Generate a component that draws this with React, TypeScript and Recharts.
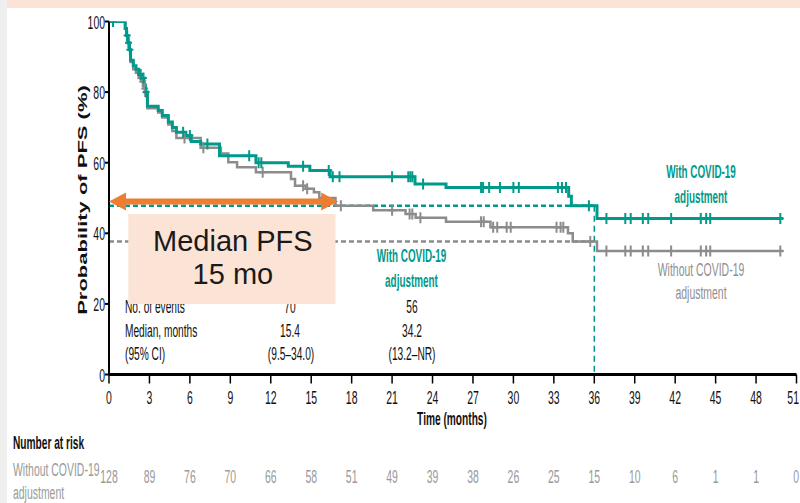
import React from 'react';
import { ComposedChart, Line, Scatter, XAxis, YAxis, ReferenceLine, ReferenceArea } from 'recharts';

// ---------- data ----------
const timeTicks = [0, 3, 6, 9, 12, 15, 18, 21, 24, 27, 30, 33, 36, 39, 42, 45, 48, 51];
const probTicks = [0, 20, 40, 60, 80, 100];
const riskWithout = [128, 89, 76, 70, 66, 58, 51, 49, 39, 38, 26, 25, 15, 10, 6, 1, 1, 0];

const withT = [0, 1.2, 1.3, 1.4, 1.5, 1.6, 1.8, 2.0, 2.2, 2.4, 2.6, 2.7, 2.85, 3.65, 3.95, 4.4, 4.7, 5.0, 5.7, 6.1, 6.8, 8.2, 10.9, 13.3, 14.9, 16.4, 22.7, 25.0, 34.1, 34.3, 36.2, 50.0];
const withP = [100, 98, 96, 94, 92, 89, 87.5, 86.5, 85, 84, 82, 80, 76, 74.8, 73.4, 71.5, 70, 68.6, 67.7, 66, 65.3, 62, 60, 59, 57.8, 56, 54, 53, 50.5, 47.8, 44.2, 44.2];

const withoutT = [0, 1.2, 1.3, 1.4, 1.5, 1.6, 1.8, 2.0, 2.2, 2.4, 2.6, 2.7, 2.85, 3.65, 3.95, 4.4, 4.7, 5.0, 6.8, 8.3, 8.85, 9.5, 10.9, 13.5, 13.8, 14.6, 15.2, 15.6, 16.8, 19.6, 22.0, 22.75, 25.0, 28.3, 34.05, 34.4, 36.2, 50.0];
const withoutP = [100, 98, 96, 94, 92, 88.5, 86.5, 85.5, 84, 83, 81, 79, 75.4, 74.2, 72.8, 70.8, 69, 67, 64.2, 62.6, 60.1, 58.7, 57.3, 55.4, 53.5, 52.6, 51.6, 50, 47.8, 46.5, 45.5, 44.4, 43.3, 41.7, 40, 37.7, 35, 35];

const withCensorT = [0.3, 1.35, 1.45, 1.55, 2.35, 2.55, 2.75, 5.5, 6.0, 7.3, 10.4, 11.1, 11.3, 14.4, 16.3, 16.6, 17.1, 21.0, 22.2, 22.35, 22.5, 23.3, 27.6, 27.75, 28.2, 29.0, 30.0, 30.4, 33.3, 33.6, 33.9, 35.6, 36.9, 38.3, 38.7, 39.6, 40.0, 41.7, 43.9, 44.3, 44.6, 49.8];
const withoutCensorT = [2.5, 2.65, 5.6, 7.0, 11.4, 14.4, 14.7, 17.2, 21.0, 22.3, 22.5, 23.1, 27.6, 27.8, 28.5, 28.8, 29.5, 29.8, 33.2, 33.5, 33.7, 35.7, 36.9, 38.3, 38.7, 39.6, 40.0, 41.7, 43.9, 44.3, 44.6, 49.8];

const medianWithLevel = 47.8;
const medianWithoutLevel = 37.7;
const arrowLevel = 49;
const arrowEnd = 17.0;
const medianTime = 36;
const boxX = [1.43, 16.8];
const boxY = [20.0, 45.5];

// ---------- helpers ----------
const TEAL = '#00998A';
const GRAY = '#8C8C8C';
const ORANGE = '#ED7D31';
const PINK = '#FBE4D6';
const FONT = "'Liberation Sans', Arial, sans-serif";
const SX = 0.55;

const toSeries = (ts: number[], ps: number[]) => ts.map((t, i) => ({ t, p: ps[i] }));
const stepAt = (ts: number[], ps: number[], t: number) => {
  let v = ps[0];
  for (let i = 0; i < ts.length; i++) if (ts[i] <= t) v = ps[i];
  return v;
};
const withData = toSeries(withT, withP);
const withoutData = toSeries(withoutT, withoutP);
const withCensor = withCensorT.map((t) => ({ t, p: stepAt(withT, withP, t) }));
const withoutCensor = withoutCensorT.map((t) => ({ t, p: stepAt(withoutT, withoutP, t) }));

function SText({ x, y, children, size = 18, anchor = 'middle', weight = 'normal', fill = '#111', sx = SX }: any) {
  return (
    <text
      transform={`translate(${x},${y}) scale(${sx},1)`}
      x={0}
      y={0}
      fontSize={size}
      fontFamily={FONT}
      fontWeight={weight}
      fill={fill}
      textAnchor={anchor}
    >
      {children}
    </text>
  );
}

const XTick = (props: any) => {
  const { x, y, payload } = props;
  const idx = timeTicks.indexOf(payload.value);
  const last = idx === timeTicks.length - 1;
  return (
    <g>
      <SText x={last ? 799 : x} y={y + 18} size={19} anchor={last ? 'end' : 'middle'}>{payload.value}</SText>
      <SText x={last ? 799 : x} y={y + 97.5} fill="#9A9A9A" size={19} anchor={last ? 'end' : 'middle'}>{riskWithout[idx]}</SText>
    </g>
  );
};

const YTick = (props: any) => {
  const { x, y, payload } = props;
  return <SText x={x} y={y + 7} size={19} anchor="end">{payload.value}</SText>;
};

const makeCensor = (color: string) => (props: any) => {
  const { cx, cy } = props;
  if (cx == null || cy == null) return <g />;
  return (
    <g>
      <line x1={cx} x2={cx} y1={cy - 5.5} y2={cy + 5.5} stroke={color} strokeWidth={2} />
      <line x1={cx - 3.5} x2={cx + 3.5} y1={cy} y2={cy} stroke={color} strokeWidth={2} />
    </g>
  );
};

const ArrowShape = (props: any) => {
  const { x1, y1, x2 } = props;
  if (x1 == null) return <g />;
  const L = 17;
  const H = 9;
  return (
    <g>
      <line x1={x1 + L - 1} x2={x2 - L + 1} y1={y1} y2={y1} stroke={ORANGE} strokeWidth={6} />
      <polygon points={`${x1},${y1} ${x1 + L},${y1 - H} ${x1 + L},${y1 + H}`} fill={ORANGE} />
      <polygon points={`${x2},${y1} ${x2 - L},${y1 - H} ${x2 - L},${y1 + H}`} fill={ORANGE} />
    </g>
  );
};

const BoxLabel = (props: any) => {
  const vb = props.viewBox || {};
  const cx = vb.x + vb.width / 2 + 1;
  const cy = vb.y + vb.height / 2;
  return (
    <g>
      <text x={cx} y={cy - 8} textAnchor="middle" fontSize={29} fontFamily={FONT} fill="#1a1a1a">Median PFS</text>
      <text x={cx} y={cy + 25} textAnchor="middle" fontSize={29} fontFamily={FONT} fill="#1a1a1a">15 mo</text>
    </g>
  );
};

export default function App() {
  return (
    <div style={{ position: 'absolute', left: 0, top: 0, width: 800, height: 503, background: '#fff', overflow: 'hidden' }}>
      {/* static text layer (beneath chart) */}
      <svg width={800} height={503} style={{ position: 'absolute', left: 0, top: 0 }}>
        <g transform="translate(87,200) scale(0.58,1) rotate(-90)">
          <text x={0} y={0} textAnchor="middle" fontSize={22} fontWeight="bold" fontFamily={FONT} fill="#111">Probability of PFS (%)</text>
        </g>
        <SText x={701} y={178} weight="bold" fill={TEAL}>With COVID-19</SText>
        <SText x={701} y={203} weight="bold" fill={TEAL}>adjustment</SText>
        <SText x={411.5} y={262} weight="bold" fill={TEAL}>With COVID-19</SText>
        <SText x={411.5} y={287} weight="bold" fill={TEAL}>adjustment</SText>
        <SText x={701} y={276} size={19} fill="#8F8F8F">Without COVID-19</SText>
        <SText x={701} y={299} size={19} fill="#8F8F8F">adjustment</SText>

        <SText x={125} y={313} anchor="start" size={18.5}>No. of events</SText>
        <SText x={290} y={313} size={18.5}>70</SText>
        <SText x={412} y={313} size={18.5}>56</SText>
        <SText x={125} y={337} anchor="start" size={18.5}>Median, months</SText>
        <SText x={290} y={337} size={18.5}>15.4</SText>
        <SText x={412} y={337} size={18.5}>34.2</SText>
        <SText x={125} y={360} anchor="start" size={18.5}>(95% CI)</SText>
        <SText x={291} y={360} size={18.5}>(9.5–34.0)</SText>
        <SText x={412} y={360} size={18.5}>(13.2–NR)</SText>

        <SText x={452} y={425} weight="bold" size={18.5}>Time (months)</SText>
        <SText x={13} y={449} anchor="start" weight="bold" size={18.5}>Number at risk</SText>
        <SText x={13} y={476} anchor="start" size={19} fill="#9A9A9A">Without COVID-19</SText>
        <SText x={13} y={499} anchor="start" size={19} fill="#9A9A9A">adjustment</SText>
      </svg>

      <div style={{ position: 'absolute', left: 0, top: 0 }}>
        <ComposedChart width={800} height={503} margin={{ top: 21.5, right: 3.5, bottom: 0.5, left: 49 }}>
          <XAxis
            xAxisId={0}
            type="number"
            dataKey="t"
            domain={[0, 51]}
            ticks={timeTicks}
            interval={0}
            allowDataOverflow
            height={128}
            tickSize={9}
            tickMargin={2}
            axisLine={{ stroke: '#000', strokeWidth: 3 }}
            tickLine={{ stroke: '#000', strokeWidth: 1.5 }}
            tick={<XTick />}
          />
          <YAxis
            yAxisId={0}
            type="number"
            dataKey="p"
            domain={[0, 100]}
            ticks={probTicks}
            interval={0}
            allowDataOverflow
            width={60}
            tickSize={4}
            tickMargin={0}
            axisLine={{ stroke: '#000', strokeWidth: 2 }}
            tickLine={{ stroke: '#000', strokeWidth: 2 }}
            tick={<YTick />}
          />
          <ReferenceLine segment={[{ x: 0, y: medianWithoutLevel }, { x: medianTime, y: medianWithoutLevel }]} stroke={GRAY} strokeWidth={2.5} strokeDasharray="5 3" ifOverflow="visible" />
          <ReferenceLine segment={[{ x: 0, y: medianWithLevel }, { x: medianTime, y: medianWithLevel }]} stroke={TEAL} strokeWidth={2.5} strokeDasharray="5 3" ifOverflow="visible" />
          <ReferenceLine segment={[{ x: medianTime, y: medianWithLevel }, { x: medianTime, y: 0 }]} stroke={TEAL} strokeWidth={1.5} strokeDasharray="6 4" ifOverflow="visible" />
          <Line data={withoutData} dataKey="p" type="stepAfter" stroke={GRAY} strokeWidth={2.5} dot={false} isAnimationActive={false} />
          <Line data={withData} dataKey="p" type="stepAfter" stroke={TEAL} strokeWidth={3} dot={false} isAnimationActive={false} />
          <Scatter data={withoutCensor} dataKey="p" shape={makeCensor(GRAY)} isAnimationActive={false} />
          <Scatter data={withCensor} dataKey="p" shape={makeCensor(TEAL)} isAnimationActive={false} />
          <ReferenceArea x1={boxX[0]} x2={boxX[1]} y1={boxY[0]} y2={boxY[1]} fill={PINK} fillOpacity={1} stroke="none" ifOverflow="visible" zIndex={700} label={<BoxLabel />} />
          <ReferenceLine segment={[{ x: 0, y: arrowLevel }, { x: arrowEnd, y: arrowLevel }]} shape={<ArrowShape />} ifOverflow="visible" zIndex={800} />
        </ComposedChart>
      </div>

      <div style={{ position: 'absolute', left: 0, top: 0, width: 7, height: 503, background: '#EFEFEF' }} />
      <div style={{ position: 'absolute', left: 7, top: 0, width: 793, height: 8, background: PINK }} />
    </div>
  );
}
